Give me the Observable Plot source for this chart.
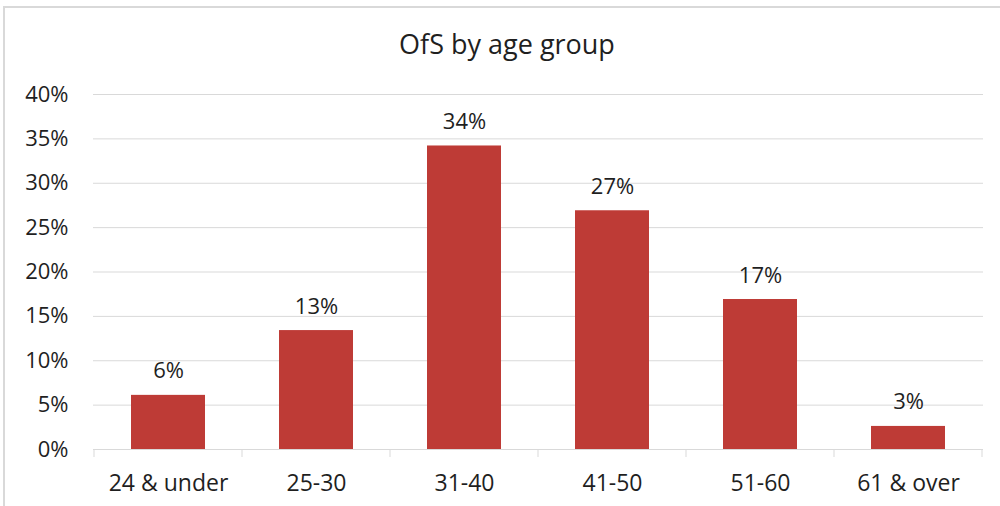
<!DOCTYPE html>
<html>
<head>
<meta charset="utf-8">
<script src="https://cdn.jsdelivr.net/npm/d3@7"></script>
<script src="https://cdn.jsdelivr.net/npm/@observablehq/plot@0.6"></script>
<style>
  html, body { margin: 0; padding: 0; background: #fff; }
  #wrap { position: relative; width: 1000px; height: 506px; overflow: hidden; font-family: "Open Sans", sans-serif; }
  #frame { position: absolute; left: 3px; top: 6px; right: -4px; bottom: -4px; border-top: 2px solid #d9d9d9; border-left: 2px solid #d9d9d9; }
  #title { position: absolute; left: 14px; right: 0; top: 30px; text-align: center; font-size: 27px; line-height: 27px; color: #1f1f1f; }
  #chart { position: absolute; left: 0; top: 70px; }
</style>
</head>
<body>
<div id="wrap">
  <div id="frame"></div>
  <div id="title">OfS by age group</div>
  <div id="chart"></div>
</div>
<script>
const categories = ["24 & under", "25-30", "31-40", "41-50", "51-60", "61 & over"];
const values = [6.1, 13.4, 34.2, 26.9, 16.9, 2.6];
const valueLabels = ["6%", "13%", "34%", "27%", "17%", "3%"];
const yTicks = [0, 5, 10, 15, 20, 25, 30, 35, 40];

const data = categories.map((c, i) => ({cat: c, value: values[i], label: valueLabels[i]}));

const textColor = "#1f1f1f";
const gridColor = "#d9d9d9";
const barColor = "#BE3B36";

function boundaryTicks(index, scales, values, dimensions) {
  const x = scales.x;
  const step = x.step();
  const bw = x.bandwidth();
  const y0 = dimensions.height - dimensions.marginBottom;
  const xs = categories.map(c => x(c) + bw / 2 - step / 2);
  xs.push(x(categories[categories.length - 1]) + bw / 2 + step / 2);
  const g = d3.create("svg:g");
  g.selectAll("line").data(xs).join("line")
    .attr("x1", d => d).attr("x2", d => d)
    .attr("y1", y0).attr("y2", y0 + 8)
    .attr("stroke", gridColor).attr("stroke-width", 1);
  return g.node();
}

const chart = Plot.plot({
  width: 1000,
  height: 436,
  marginTop: 24,
  marginBottom: 57,
  marginLeft: 93,
  marginRight: 17,
  style: {fontFamily: "'Open Sans', sans-serif", fontSize: "22px", color: textColor, background: "transparent"},
  x: {domain: categories, paddingInner: 0.5, paddingOuter: 0.25, label: null},
  y: {domain: [0, 40], label: null},
  marks: [
    Plot.gridY(yTicks, {stroke: gridColor, strokeOpacity: 1, strokeWidth: 1}),
    Plot.barY(data, {x: "cat", y: "value", fill: barColor}),
    Plot.ruleY([0], {stroke: gridColor, strokeWidth: 1}),
    boundaryTicks,
    Plot.axisY(yTicks, {tickSize: 0, tickPadding: 25, tickFormat: d => d + "%", fill: textColor, fontSize: 22, label: null}),
    Plot.axisX({tickSize: 0, tickPadding: 25, fill: textColor, fontSize: 23, label: null}),
    Plot.text(data, {x: "cat", y: "value", text: "label", dy: -24, lineAnchor: "middle", fill: textColor, fontSize: 22})
  ]
});
document.getElementById("chart").appendChild(chart);
</script>
</body>
</html>
